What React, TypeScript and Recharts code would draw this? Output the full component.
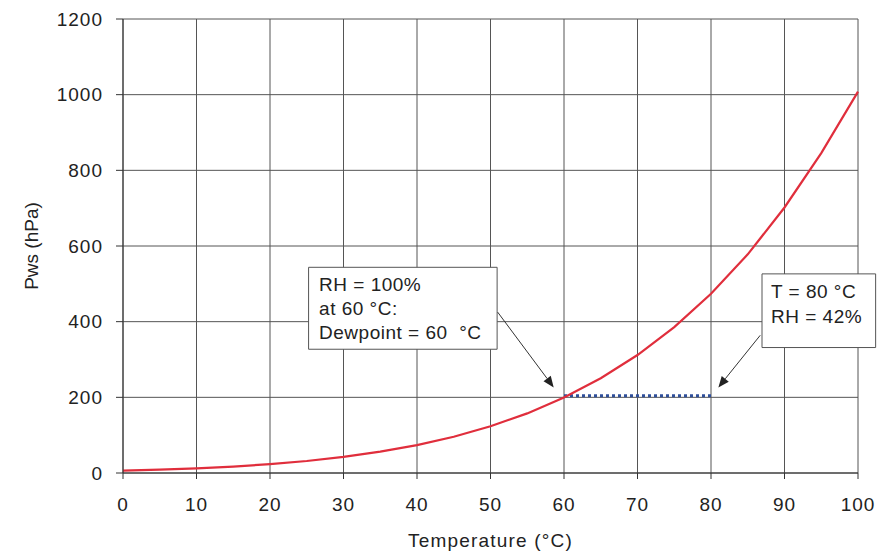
import React from 'react';
import { LineChart, Line, XAxis, YAxis, CartesianGrid, ReferenceArea, ReferenceLine } from 'recharts';

const temperatures = [0, 5, 10, 15, 20, 25, 30, 35, 40, 45, 50, 55, 60, 65, 70, 75, 80, 85, 90, 95, 100];
const pwsValues = [6.1, 8.7, 12.3, 17.0, 23.4, 31.7, 42.5, 56.3, 73.8, 95.9, 123.5, 157.5, 199.4, 250.3, 311.8, 385.8, 473.8, 578.0, 701.8, 845.6, 1008];
const dewTemps = [60, 80];
const dewPws = [204, 204];
const xTicks = [0, 10, 20, 30, 40, 50, 60, 70, 80, 90, 100];
const yTicks = [0, 200, 400, 600, 800, 1000, 1200];

const box1Lines = ['RH = 100%', 'at 60 °C:', 'Dewpoint = 60  °C'];
const box2Lines = ['T = 80 °C', 'RH = 42%'];

const chartData = temperatures.map((t, i) => ({ t, pws: pwsValues[i] }));
const dewData = dewTemps.map((t, i) => ({ t, pws: dewPws[i] }));

const FONT = '"Liberation Sans", Arial, Helvetica, sans-serif';

function BoxText(props: any) {
  const { viewBox, lines, padX, padY, lineGap } = props;
  const { x, y } = viewBox;
  return (
    <text fontFamily={FONT} fontSize={19} fill="#222" letterSpacing={0.5} style={{ whiteSpace: 'pre' }}>
      {lines.map((l: string, i: number) => (
        <tspan key={i} x={x + padX} y={y + padY + i * lineGap}>{l}</tspan>
      ))}
    </text>
  );
}

function Arrow(props: any) {
  const { x1, y1, x2, y2 } = props;
  const ang = Math.atan2(y2 - y1, x2 - x1);
  const L = 11;
  const W = 4.5;
  const bx = x2 - L * Math.cos(ang);
  const by = y2 - L * Math.sin(ang);
  const px = -Math.sin(ang) * W;
  const py = Math.cos(ang) * W;
  return (
    <g>
      <line x1={x1} y1={y1} x2={bx} y2={by} stroke="#333" strokeWidth={1} />
      <polygon points={`${x2},${y2} ${bx + px},${by + py} ${bx - px},${by - py}`} fill="#222" />
    </g>
  );
}

function YLabel(props: any) {
  const { viewBox } = props;
  const cx = viewBox.x + 31;
  const cy = viewBox.y + viewBox.height / 2;
  return (
    <text x={cx} y={cy} transform={`rotate(-90 ${cx} ${cy})`} textAnchor="middle" dominantBaseline="central"
      fontFamily={FONT} fontSize={19} fill="#222">Pws (hPa)</text>
  );
}

function XLabel(props: any) {
  const { viewBox } = props;
  const cx = viewBox.x + viewBox.width / 2;
  return (
    <text x={cx} y={viewBox.y + 73.5} textAnchor="middle" fontFamily={FONT} fontSize={19} letterSpacing={1.2} fill="#222">
      Temperature (°C)
    </text>
  );
}

const tickStyle = { fill: '#222', fontSize: 19, fontFamily: FONT, letterSpacing: 1 } as any;

export default function App() {
  return (
    <div style={{ position: 'absolute', left: 0, top: 0, background: '#fff' }}>
      <LineChart width={877} height={551} data={chartData} margin={{ top: 19, right: 19, bottom: 0, left: 0 }}>
        <CartesianGrid stroke="#555" strokeWidth={1} />
        <XAxis dataKey="t" type="number" domain={[0, 100]} ticks={xTicks} height={78} tickSize={6} tickMargin={19}
          stroke="#333" tick={tickStyle} label={<XLabel />} />
        <YAxis type="number" domain={[0, 1200]} ticks={yTicks} width={123} tickSize={7} tickMargin={13}
          stroke="#333" tick={tickStyle} label={<YLabel />} />
        <ReferenceArea x1={25.25} x2={50.9} y1={327.1} y2={543.7} ifOverflow="visible" fill="#fff" fillOpacity={1}
          stroke="#555" strokeWidth={1}
          label={<BoxText lines={box1Lines} padX={10.5} padY={24} lineGap={24} />} />
        <ReferenceArea x1={86.94} x2={102.4} y1={331.6} y2={526.3} ifOverflow="visible" fill="#fff" fillOpacity={1}
          stroke="#555" strokeWidth={1}
          label={<BoxText lines={box2Lines} padX={9} padY={24} lineGap={25} />} />
        <ReferenceLine segment={[{ x: 50.97, y: 425.3 }, { x: 58.6, y: 226.3 }]} ifOverflow="visible" shape={<Arrow />} />
        <ReferenceLine segment={[{ x: 86.7, y: 364 }, { x: 81.0, y: 226.3 }]} ifOverflow="visible" shape={<Arrow />} />
        <Line data={dewData} dataKey="pws" stroke="#2f4f9a" strokeWidth={3} strokeDasharray="3 3" dot={false}
          activeDot={false} isAnimationActive={false} type="linear" />
        <Line dataKey="pws" stroke="#e02e3c" strokeWidth={2.2} dot={false} activeDot={false}
          isAnimationActive={false} type="linear" />
      </LineChart>
    </div>
  );
}
